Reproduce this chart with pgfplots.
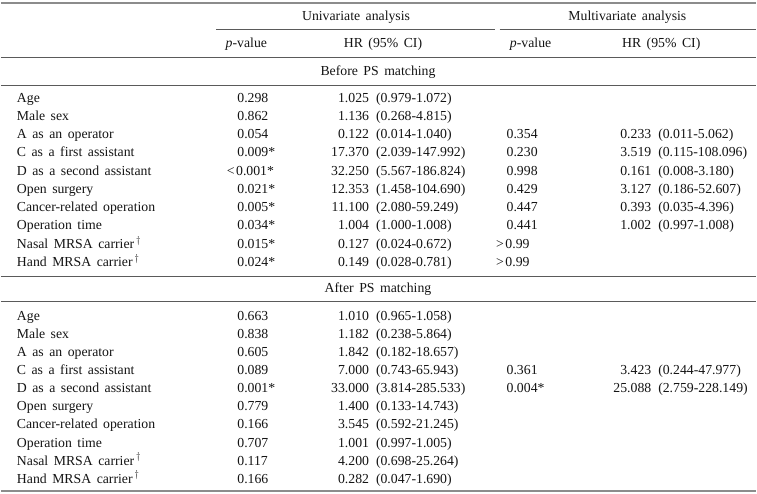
\documentclass[border=0pt]{standalone}
\usepackage{fontspec}
\setmainfont{Liberation Serif}
\usepackage{pgfplots}
\pgfplotsset{compat=1.18}
\newcommand\tf{\fontsize{13.8}{16}\selectfont\spaceskip=0.4em plus 0.1em\relax}
\definecolor{rulegray}{HTML}{8C8C8C}
\definecolor{rulemid}{HTML}{5A5A5A}
\definecolor{txt}{HTML}{141414}
\pgfplotsset{txtcol/.style={only marks, mark=text, text mark={}, mark size=0pt,
  mark options={draw=none,fill=none},
  nodes near coords, point meta=explicit symbolic,
  every node near coord/.append style={anchor=#1, inner sep=0pt, outer sep=0pt, font=\tf, text=txt}}}
\begin{document}
\begin{tikzpicture}
\begin{axis}[width=757pt,height=495pt,scale only axis,
  xmin=0,xmax=757,ymin=0,ymax=495,y dir=reverse,hide axis,clip=false]
\path (axis cs:0,0) (axis cs:757,495);
% rules
\draw[rulegray, line width=2pt] (axis cs:0,3) -- (axis cs:757,3);
\draw[rulemid, line width=0.9pt] (axis cs:216,30) -- (axis cs:495,30);
\draw[rulemid, line width=0.9pt] (axis cs:500,30) -- (axis cs:757,30);
\draw[rulemid, line width=0.9pt] (axis cs:0,58) -- (axis cs:757,58);
\draw[rulemid, line width=0.9pt] (axis cs:0,86) -- (axis cs:757,86);
\draw[rulemid, line width=0.9pt] (axis cs:0,277) -- (axis cs:757,277);
\draw[rulemid, line width=0.9pt] (axis cs:0,302) -- (axis cs:757,302);
\draw[rulegray, line width=2pt] (axis cs:0,492) -- (axis cs:757,492);
% headers
\node[font=\tf, text=txt] at (axis cs:356,17) {Univariate analysis};
\node[font=\tf, text=txt] at (axis cs:628,17) {Multivariate analysis};
\node[font=\tf, text=txt] at (axis cs:246,44) {\textit{p}-value};
\node[font=\tf, text=txt] at (axis cs:383,44) {HR (95\% CI)};
\node[font=\tf, text=txt] at (axis cs:531,44) {\textit{p}-value};
\node[font=\tf, text=txt] at (axis cs:662,44) {HR (95\% CI)};
\node[font=\tf, text=txt] at (axis cs:378,72) {Before PS matching};
\node[font=\tf, text=txt] at (axis cs:378,290) {After PS matching};
% row labels
\addplot[txtcol=base west] table[x=x,y=y,meta=lab,col sep=comma,row sep=\\]{
x,y,lab\\
16,102.5,Age\\
16,120.8,Male sex\\
16,139.1,A as an operator\\
16,157.4,C as a first assistant\\
16,175.7,D as a second assistant\\
16,194.0,Open surgery\\
16,212.3,Cancer-related operation\\
16,230.6,Operation time\\
16,248.9,Nasal MRSA carrier\kern2pt$^\dagger$\\
16,267.2,Hand MRSA carrier\kern2pt$^\dagger$\\
16,321.5,Age\\
16,339.6,Male sex\\
16,357.7,A as an operator\\
16,375.8,C as a first assistant\\
16,393.9,D as a second assistant\\
16,412.0,Open surgery\\
16,430.1,Cancer-related operation\\
16,448.2,Operation time\\
16,466.3,Nasal MRSA carrier\kern2pt$^\dagger$\\
16,484.4,Hand MRSA carrier\kern2pt$^\dagger$\\
};
% univariate p-values
\addplot[txtcol=base west] table[x=x,y=y,meta=lab,col sep=comma,row sep=\\]{
x,y,lab\\
237,102.5,0.298\\
237,120.8,0.862\\
237,139.1,0.054\\
237,157.4,0.009*\\
226.5,175.7,<\kern1.5pt0.001*\\
237,194.0,0.021*\\
237,212.3,0.005*\\
237,230.6,0.034*\\
237,248.9,0.015*\\
237,267.2,0.024*\\
237,321.5,0.663\\
237,339.6,0.838\\
237,357.7,0.605\\
237,375.8,0.089\\
237,393.9,0.001*\\
237,412.0,0.779\\
237,430.1,0.166\\
237,448.2,0.707\\
237,466.3,0.117\\
237,484.4,0.166\\
};
% univariate HR
\addplot[txtcol=base east] table[x=x,y=y,meta=lab,col sep=comma,row sep=\\]{
x,y,lab\\
369,102.5,1.025\\
369,120.8,1.136\\
369,139.1,0.122\\
369,157.4,17.370\\
369,175.7,32.250\\
369,194.0,12.353\\
369,212.3,11.100\\
369,230.6,1.004\\
369,248.9,0.127\\
369,267.2,0.149\\
369,321.5,1.010\\
369,339.6,1.182\\
369,357.7,1.842\\
369,375.8,7.000\\
369,393.9,33.000\\
369,412.0,1.400\\
369,430.1,3.545\\
369,448.2,1.001\\
369,466.3,4.200\\
369,484.4,0.282\\
};
% univariate CI
\addplot[txtcol=base west] table[x=x,y=y,meta=lab,col sep=comma,row sep=\\]{
x,y,lab\\
376,102.5,(0.979-1.072)\\
376,120.8,(0.268-4.815)\\
376,139.1,(0.014-1.040)\\
376,157.4,(2.039-147.992)\\
376,175.7,(5.567-186.824)\\
376,194.0,(1.458-104.690)\\
376,212.3,(2.080-59.249)\\
376,230.6,(1.000-1.008)\\
376,248.9,(0.024-0.672)\\
376,267.2,(0.028-0.781)\\
376,321.5,(0.965-1.058)\\
376,339.6,(0.238-5.864)\\
376,357.7,(0.182-18.657)\\
376,375.8,(0.743-65.943)\\
376,393.9,(3.814-285.533)\\
376,412.0,(0.133-14.743)\\
376,430.1,(0.592-21.245)\\
376,448.2,(0.997-1.005)\\
376,466.3,(0.698-25.264)\\
376,484.4,(0.047-1.690)\\
};
% multivariate p-values
\addplot[txtcol=base west] table[x=x,y=y,meta=lab,col sep=comma,row sep=\\]{
x,y,lab\\
507,139.1,0.354\\
507,157.4,0.230\\
507,175.7,0.998\\
507,194.0,0.429\\
507,212.3,0.447\\
507,230.6,0.441\\
496.5,248.9,>\kern1.5pt0.99\\
496.5,267.2,>\kern1.5pt0.99\\
507,375.8,0.361\\
507,393.9,0.004*\\
};
% multivariate HR
\addplot[txtcol=base east] table[x=x,y=y,meta=lab,col sep=comma,row sep=\\]{
x,y,lab\\
652,139.1,0.233\\
652,157.4,3.519\\
652,175.7,0.161\\
652,194.0,3.127\\
652,212.3,0.393\\
652,230.6,1.002\\
652,375.8,3.423\\
652,393.9,25.088\\
};
% multivariate CI
\addplot[txtcol=base west] table[x=x,y=y,meta=lab,col sep=comma,row sep=\\]{
x,y,lab\\
659,139.1,(0.011-5.062)\\
659,157.4,(0.115-108.096)\\
659,175.7,(0.008-3.180)\\
659,194.0,(0.186-52.607)\\
659,212.3,(0.035-4.396)\\
659,230.6,(0.997-1.008)\\
659,375.8,(0.244-47.977)\\
659,393.9,(2.759-228.149)\\
};
\end{axis}
\end{tikzpicture}
\end{document}
